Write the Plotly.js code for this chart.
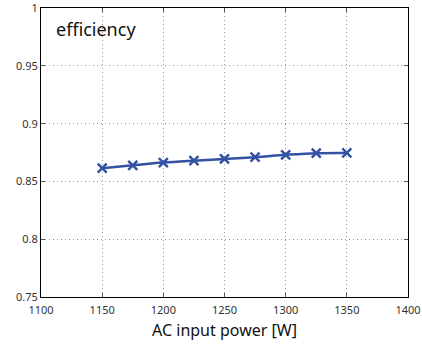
<!DOCTYPE html>
<html>
<head>
<meta charset="utf-8">
<script src="https://cdn.plot.ly/plotly-3.0.1.min.js"></script>
<style>html,body{margin:0;padding:0;background:#fff;}#chart{width:422px;height:345px;}</style>
</head>
<body>
<div id="chart"></div>
<script>
const acInputPower = [1150, 1175, 1200, 1225, 1250, 1275, 1300, 1325, 1350];
const efficiency = [0.8615, 0.864, 0.8663, 0.868, 0.8695, 0.871, 0.873, 0.8745, 0.8747];
const xTicks = [1100, 1150, 1200, 1250, 1300, 1350, 1400];
const yTicks = [0.75, 0.8, 0.85, 0.9, 0.95, 1];
const yTickText = ['0.75', '0.8', '0.85', '0.9', '0.95', '1'];

const font = 'Noto Sans, Open Sans, sans-serif';
const trace = {
  x: acInputPower, y: efficiency, type: 'scatter', mode: 'lines+markers',
  line: {color: '#3352a3', width: 2.5, shape: 'spline'},
  marker: {symbol: 'x-thin', size: 9, line: {color: '#3352a3', width: 2.5}, color: '#3352a3'},
  hoverinfo: 'skip'
};
const axisCommon = {
  showline: true, linecolor: '#000', linewidth: 1, mirror: 'ticks',
  ticks: 'inside', ticklen: 4, tickcolor: '#555', tickwidth: 1,
  showgrid: true, gridcolor: '#9a9a9a', griddash: '1px,3px', gridwidth: 1,
  zeroline: false, tickfont: {family: font, size: 11, color: '#333'},
  ticklabeloverflow: 'allow'
};
const layout = {
  width: 422, height: 345,
  margin: {l: 41, r: 14, t: 8, b: 48},
  paper_bgcolor: '#fff', plot_bgcolor: '#fff',
  showlegend: false,
  xaxis: Object.assign({}, axisCommon, {
    range: [1100, 1400], tickvals: xTicks, ticktext: xTicks.map(String),
    ticklabelstandoff: 3,
    title: {text: 'AC input power [W]', font: {family: font, size: 16, color: '#111'}, standoff: 8}
  }),
  yaxis: Object.assign({}, axisCommon, {
    range: [0.75, 1.0001], tickvals: yTicks, ticktext: yTickText
  }),
  annotations: [{
    text: 'efficiency', xref: 'paper', yref: 'paper', x: 0.035, y: 0.928,
    xanchor: 'left', yanchor: 'middle', showarrow: false,
    font: {family: font, size: 18, color: '#111'}
  }]
};
Plotly.newPlot('chart', [trace], layout, {staticPlot: true, displayModeBar: false});
</script>
</body>
</html>
